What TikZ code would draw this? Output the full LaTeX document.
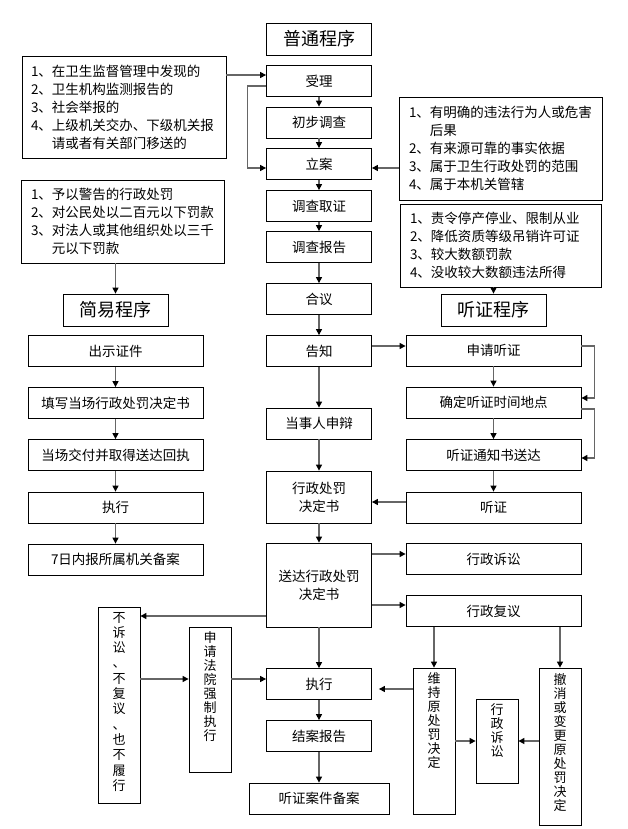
\documentclass[tikz,border=0pt]{standalone}
\usepackage{fontspec}
\setmainfont{Noto Sans CJK SC}
\usetikzlibrary{arrows.meta}

% one column of upright characters, top aligned
\newcommand{\vcol}[2]{\parbox[t][#1][t]{1.2em}{\centering #2}}

\begin{document}
\begin{tikzpicture}[
            x = 1pt, y = -1pt, % pixel grid, y runs down
            > = {Triangle[length=6pt, width=6pt, color=black]}, % arrow head style
            shorten > = 0pt,
            semithick
        ]

        \tikzstyle{cell}=[
            draw = black,
            line width = 0.8pt,
            minimum width = 105pt,
            minimum height = 31pt,
            inner sep = 2pt,
            align = center,
            font = \fontsize{13.5}{18}\selectfont
        ]
        \tikzstyle{widecell}=[cell, minimum width = 175pt]
        \tikzstyle{headcell}=[cell, minimum height = 32pt, font = \fontsize{18}{22}\selectfont]
        \tikzstyle{notebox}=[
            draw = black,
            line width = 0.8pt,
            align = left,
            inner xsep = 10pt,
            font = \fontsize{13.5}{18}\selectfont
        ]
        \tikzstyle{colbox}=[
            draw = black,
            line width = 0.8pt,
            minimum width = 42pt,
            inner xsep = 0pt,
            inner ysep = 5pt,
            font = \fontsize{13}{14}\selectfont
        ]
        \tikzstyle{conn}=[->, draw = black!60, line width = 1.2pt]

        \useasboundingbox (0,0) rectangle (628,829);

        % ordinary procedure
        \node (title) [headcell] at (319,39) {普通程序};
        \node (shouli) [cell] at (319,81) {受理};
        \node (chubu) [cell] at (319,122.5) {初步调查};
        \node (lian) [cell] at (319,164) {立案};
        \node (quzheng) [cell] at (319,206) {调查取证};
        \node (baogao) [cell] at (319,247) {调查报告};
        \node (heyi) [cell] at (319,299) {合议};
        \node (gaozhi) [cell] at (319,351) {告知};
        \node (shenbian) [cell] at (319,423.5) {当事人申辩};
        \node (decision) [cell, minimum height = 52pt] at (319,497) {行政处罚\\决定书};
        \node (deliver) [cell, minimum height = 84pt] at (319,585) {送达行政处罚\\决定书};
        \node (exec) [cell] at (319,684) {执行};
        \node (report) [cell] at (319,736) {结案报告};
        \node (archive) [cell, minimum width = 140pt] at (319,798.5) {听证案件备案};

        \node (cases) [notebox, inner xsep = 9pt, text width = 186pt, minimum height = 102pt] at (124,107)
            {1、在卫生监督管理中发现的\\2、卫生机构监测报告的\\3、社会举报的\\4、上级机关交办、下级机关报\\\phantom{4、}请或者有关部门移送的};
        \node (conds) [notebox, text width = 183pt, minimum height = 103pt] at (500.5,148.5)
            {1、有明确的违法行为人或危害\\\phantom{1、}后果\\2、有来源可靠的事实依据\\3、属于卫生行政处罚的范围\\4、属于本机关管辖};

        % summary procedure
        \node (simple) [notebox, text width = 183pt, minimum height = 83pt] at (122.5,221.5)
            {1、予以警告的行政处罚\\2、对公民处以二百元以下罚款\\3、对法人或其他组织处以三千\\\phantom{3、}元以下罚款};
        \node (easy) [headcell] at (115.5,310) {简易程序};
        \node (show) [widecell] at (115.5,351) {出示证件};
        \node (fill) [widecell] at (115.5,403) {填写当场行政处罚决定书};
        \node (hand) [widecell] at (115.5,455) {当场交付并取得送达回执};
        \node (exec1) [widecell] at (115.5,507.5) {执行};
        \node (file) [widecell] at (115.5,559.5) {7日内报所属机关备案};

        % hearing procedure
        \node (heavy) [notebox, text width = 181pt, minimum height = 83pt] at (500.5,245.5)
            {1、责令停产停业、限制从业\\2、降低资质等级吊销许可证\\3、较大数额罚款\\4、没收较大数额违法所得};
        \node (hearproc) [headcell] at (493.5,310) {听证程序};
        \node (apply) [widecell] at (493.5,350.5) {申请听证};
        \node (fix) [widecell] at (493.5,402.5) {确定听证时间地点};
        \node (notice) [widecell] at (493.5,455) {听证通知书送达};
        \node (hearing) [widecell] at (493.5,507.5) {听证};
        \node (suit1) [widecell] at (493.5,559) {行政诉讼};
        \node (review) [widecell] at (493.5,611) {行政复议};

        % after the decision
        \node (noact) [colbox, font = \fontsize{13}{15.3}\selectfont] at (119,705)
            {\vcol{186pt}{不\\诉\\讼\\、\\不\\复\\议\\、\\也\\不\\履\\行}};
        \node (court) [colbox] at (210,699.5) {\vcol{135pt}{申\\请\\法\\院\\强\\制\\执\\行}};
        \node (keep) [colbox] at (434,741) {\vcol{136pt}{维\\持\\原\\处\\罚\\决\\定}};
        \node (suit2) [colbox] at (497,741) {\vcol{74pt}{行\\政\\诉\\讼}};
        \node (change) [colbox] at (560,746.5) {\vcol{147pt}{撤\\消\\或\\变\\更\\原\\处\\罚\\决\\定}};

        % main line
        \path[conn] (shouli) edge (chubu);
        \path[conn] (chubu) edge (lian);
        \path[conn] (lian) edge (quzheng);
        \path[conn] (quzheng) edge (baogao);
        \path[conn] (baogao) edge (heyi);
        \path[conn] (heyi) edge (gaozhi);
        \path[conn] (gaozhi) edge (shenbian);
        \path[conn] (shenbian) edge (decision);
        \path[conn] (decision) edge (deliver);
        \path[conn] (deliver) edge (exec);
        \path[conn] (exec) edge (report);
        \path[conn] (report) edge (archive);

        \draw[conn] (cases.east |- 0,75) -- (shouli.west |- 0,75);
        \draw[conn] (shouli.west |- 0,86) -- ++(-19,0) |- (lian.west |- 0,168);
        \draw[conn] (conds.west |- 0,168) -- (lian.east |- 0,168);

        % summary line
        \draw[conn] (easy.north |- simple.south) -- (easy.north);
        \path[conn] (show) edge (fill);
        \path[conn] (fill) edge (hand);
        \path[conn] (hand) edge (exec1);
        \path[conn] (exec1) edge (file);

        % hearing line
        \draw[conn] (hearproc.north |- heavy.south) -- (hearproc.north);
        \draw[conn] (gaozhi.east |- 0,346) -- (apply.west |- 0,346);
        \path[conn] (apply) edge (fix);
        \path[conn] (fix) edge (notice);
        \path[conn] (notice) edge (hearing);
        \draw[conn] (apply.east |- 0,346) -- ++(13,0) |- (fix.east |- 0,398);
        \draw[conn] (fix.east |- 0,409) -- ++(13,0) |- (notice.east |- 0,458);
        \draw[conn] (hearing.west |- 0,502) -- (decision.east |- 0,502);

        % remedies
        \draw[conn] (deliver.east |- 0,554) -- (suit1.west |- 0,554);
        \draw[conn] (deliver.east |- 0,605) -- (review.west |- 0,605);
        \draw[conn] (deliver.west |- 0,616) -- (noact.east |- 0,616);
        \draw[conn] (noact.east |- 0,679) -- (court.west |- 0,679);
        \draw[conn] (court.east |- 0,679) -- (exec.west |- 0,679);
        \draw[conn] (keep.north |- review.south) -- (keep.north);
        \draw[conn] (change.north |- review.south) -- (change.north);
        \draw[conn, shorten > = 7pt] (keep.west |- 0,689) -- (exec.east |- 0,689);
        \draw[conn] (keep.east |- suit2.west) -- (suit2.west);
        \draw[conn] (change.west |- suit2.east) -- (suit2.east);

    \end{tikzpicture}
\end{document}
